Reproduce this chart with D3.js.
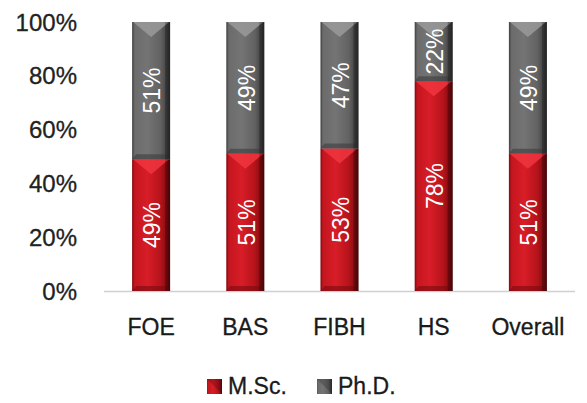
<!DOCTYPE html>
<html><head><meta charset="utf-8">
<script src="https://cdn.jsdelivr.net/npm/d3@7"></script>
<style>
html,body{margin:0;padding:0;background:#fff;}
text{font-family:"Liberation Sans",Arial,sans-serif;}
</style></head><body>
<svg id="c" width="587" height="403"></svg>
<script>
const categories = ["FOE","BAS","FIBH","HS","Overall"];
const msc = [0.49,0.51,0.53,0.78,0.51];
const phd = [0.51,0.49,0.47,0.22,0.49];
const yTicks = [0,0.2,0.4,0.6,0.8,1.0];
const seriesNames = ["M.Sc.","Ph.D."];

const svg = d3.select("#c");
const defs = svg.append("defs");
function hgrad(id, stops){
  const g = defs.append("linearGradient").attr("id",id).attr("x1","0").attr("x2","1").attr("y1","0").attr("y2","0");
  stops.forEach(([o,c])=>g.append("stop").attr("offset",o).attr("stop-color",c));
}
hgrad("gRed",[[0,"#a01018"],[0.08,"#c5161f"],[0.4,"#d81d27"],[0.75,"#b5131b"],[0.9,"#8a0c12"],[1,"#5a0609"]]);
hgrad("gGray",[[0,"#555"],[0.08,"#6c6c6c"],[0.4,"#747474"],[0.75,"#626262"],[0.9,"#464646"],[1,"#2e2e2e"]]);

const x = d3.scalePoint().domain(categories).range([104,575]).padding(0.5);
const y = d3.scaleLinear().domain([0,1]).range([291,22]);
const bw = 38;

// y axis labels
svg.append("g").selectAll("text").data(yTicks).join("text")
  .attr("x",77).attr("y",d=>y(d)).attr("dy","0.36em").attr("text-anchor","end")
  .attr("font-size",24).attr("fill","#222").attr("stroke","#222").attr("stroke-width",0.3)
  .text(d3.format(".0%"));

// baseline
svg.append("line").attr("x1",104).attr("x2",575).attr("y1",y(0)+0.5).attr("y2",y(0)+0.5)
  .attr("stroke","#d0d0d0").attr("stroke-width",1.5);

const segs = [];
categories.forEach((c,i)=>{
  segs.push({c, s:0, y0:0, y1:msc[i], v:msc[i]});
  segs.push({c, s:1, y0:msc[i], y1:msc[i]+phd[i], v:phd[i]});
});
const fills = ["url(#gRed)","url(#gGray)"];
const tops = ["#f03540","#9a9a9a"];
const bots = ["#7a0a10","#3c3c3c"];

const g = svg.append("g");
segs.forEach(d=>{
  const x0 = x(d.c)-bw/2, x1 = x(d.c)+bw/2;
  const yt = y(d.y1), yb = y(d.y0);
  const gg = g.append("g");
  gg.append("rect").attr("x",x0).attr("y",yt).attr("width",bw).attr("height",yb-yt).attr("fill",fills[d.s]);
  const h = Math.min(15,(yb-yt)/3);
  // top chevron
  gg.append("path").attr("d",`M${x0+1},${yt}L${x1-1},${yt}L${x(d.c)},${yt+h}Z`).attr("fill",tops[d.s]).attr("opacity",0.85);
  // bottom bevel
  gg.append("path").attr("d",`M${x0},${yb}L${x1},${yb}L${x1-4},${yb-5}L${x0+4},${yb-5}Z`).attr("fill",bots[d.s]).attr("opacity",0.6);
  // side edges
  gg.append("rect").attr("x",x1-5).attr("y",yt).attr("width",5).attr("height",yb-yt).attr("fill","#000").attr("opacity",0.25);
  gg.append("rect").attr("x",x0).attr("y",yt).attr("width",1.5).attr("height",yb-yt).attr("fill","#000").attr("opacity",0.15);
  // label
  const cy = (yt+yb)/2;
  gg.append("text").attr("transform",`translate(${x(d.c)+1},${cy}) rotate(-90)`)
    .attr("text-anchor","middle").attr("dy","0.36em").attr("font-size",23)
    .attr("fill","#fff").text(d3.format(".0%")(d.v));
});

// category labels
svg.append("g").selectAll("text").data(categories).join("text")
  .attr("x",d=>x(d)).attr("y",335).attr("text-anchor","middle")
  .attr("font-size",23).attr("fill","#1a1a1a").attr("stroke","#1a1a1a").attr("stroke-width",0.3)
  .text(d=>d);

// legend
const leg = [{n:seriesNames[0],x:207,f:"url(#gRed)"},{n:seriesNames[1],x:317,f:"url(#gGray)"}];
leg.forEach(l=>{
  svg.append("rect").attr("x",l.x).attr("y",379).attr("width",15).attr("height",15).attr("fill",l.f);
  svg.append("path").attr("d",`M${l.x},${379}L${l.x+15},${379}L${l.x+15},${394}Z`).attr("fill","#000").attr("opacity",0.2);
  svg.append("text").attr("x",l.x+21).attr("y",394).attr("font-size",23).attr("fill","#1a1a1a")
    .attr("stroke","#1a1a1a").attr("stroke-width",0.3).text(l.n);
});
</script>
</body></html>
